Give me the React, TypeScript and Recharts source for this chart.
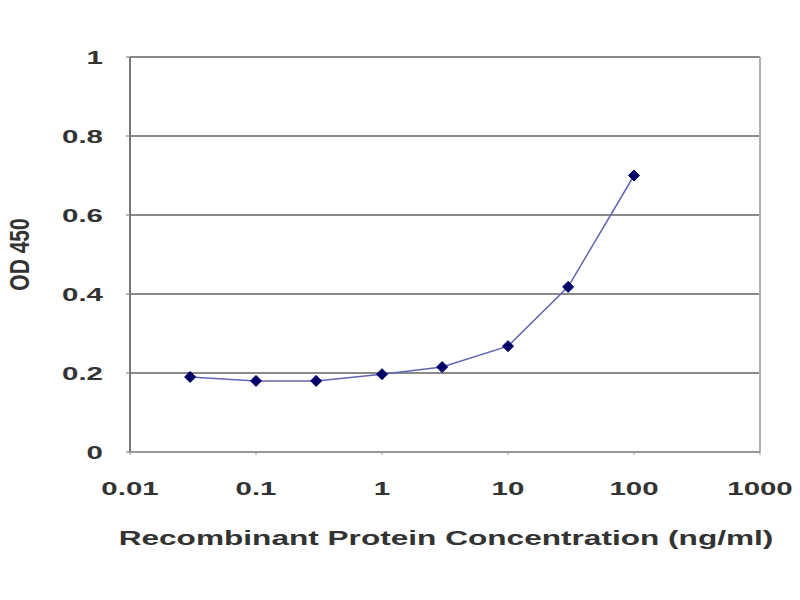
import React from 'react';
import { LineChart, Line, XAxis, YAxis, CartesianGrid, ReferenceLine } from 'recharts';

const concentrations = [0.03, 0.1, 0.3, 1, 3, 10, 30, 100];
const odValues = [0.19, 0.18, 0.18, 0.197, 0.215, 0.268, 0.418, 0.7];
const xTicks = [0.01, 0.1, 1, 10, 100, 1000];
const yTicks = [0, 0.2, 0.4, 0.6, 0.8, 1];

const data = concentrations.map((c, i) => ({ conc: c, od: odValues[i] }));

const FONT = '"Liberation Sans", Arial, sans-serif';

function StretchText({ x, y, anchor, size, sx, children }: any) {
  return (
    <g transform={`translate(${x},${y}) scale(${sx},1)`}>
      <text x={0} y={0} textAnchor={anchor} fontSize={size} fontWeight="bold" fontFamily={FONT} fill="#333">
        {children}
      </text>
    </g>
  );
}

function XTick({ x, y, payload }: any) {
  return (
    <StretchText x={x} y={y + 38} anchor="middle" size={19} sx={1.55}>
      {String(payload.value)}
    </StretchText>
  );
}

function YTick({ x, y, payload }: any) {
  return (
    <StretchText x={x - 21} y={y + 7} anchor="end" size={19} sx={1.55}>
      {String(payload.value)}
    </StretchText>
  );
}

function Diamond({ cx, cy }: any) {
  if (cx == null || cy == null) return null;
  const r = 5.5;
  return (
    <polygon
      points={`${cx},${cy - r} ${cx + r},${cy} ${cx},${cy + r} ${cx - r},${cy}`}
      fill="#000066"
      stroke="#000066"
      strokeLinejoin="round"
    />
  );
}

function XLabel({ viewBox }: any) {
  const cx = viewBox.x + viewBox.width / 2 + 1;
  return (
    <StretchText x={cx} y={viewBox.y + 93} anchor="middle" size={20} sx={1.58}>
      Recombinant Protein Concentration (ng/ml)
    </StretchText>
  );
}

function YLabel({ viewBox }: any) {
  const cy = viewBox.y + viewBox.height / 2;
  return (
    <g transform={`translate(29,${cy}) scale(1.3,1) rotate(-90)`}>
      <text x={0} y={0} textAnchor="middle" fontSize={21} fontWeight="bold" fontFamily={FONT} fill="#333">
        OD 450
      </text>
    </g>
  );
}

export default function App() {
  return (
    <div style={{ position: 'absolute', left: 0, top: 0, width: 800, height: 600, background: '#fff' }}>
      <LineChart width={800} height={600} data={data} margin={{ top: 57, right: 40, bottom: 0, left: 0 }}>
        <CartesianGrid horizontal vertical={false} stroke="#8a8a8a" strokeWidth={2} />
        <XAxis
          dataKey="conc"
          type="number"
          scale="log"
          domain={[0.01, 1000]}
          ticks={xTicks}
          allowDataOverflow
          height={148}
          tick={<XTick />}
          tickSize={3}
          tickLine={{ stroke: '#999' }}
          axisLine={{ stroke: '#999', strokeWidth: 2 }}
          label={{ content: <XLabel /> }}
        />
        <YAxis
          type="number"
          domain={[0, 1]}
          ticks={yTicks}
          width={130}
          tick={<YTick />}
          tickSize={4}
          tickLine={{ stroke: '#777' }}
          axisLine={{ stroke: '#777', strokeWidth: 2 }}
          label={{ content: <YLabel /> }}
        />
        <ReferenceLine x={1000} stroke="#b0b0b0" strokeWidth={2} ifOverflow="extendDomain" />
        <Line
          dataKey="od"
          stroke="#6464b4"
          strokeWidth={1.5}
          dot={<Diamond />}
          activeDot={false}
          isAnimationActive={false}
        />
      </LineChart>
    </div>
  );
}
